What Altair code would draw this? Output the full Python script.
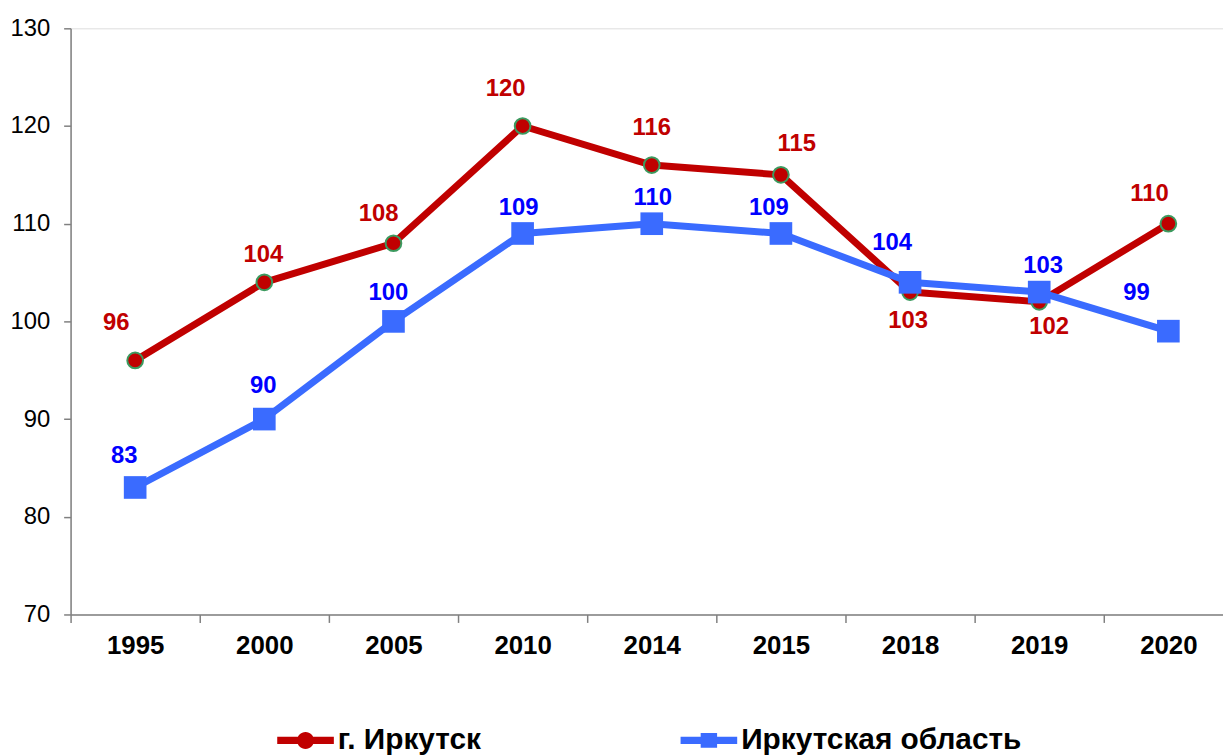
import altair as alt
import pandas as pd

years = ["1995", "2000", "2005", "2010", "2014", "2015", "2018", "2019", "2020"]
city_name = "г. Иркутск"
region_name = "Иркутская область"
city_values = [96, 104, 108, 120, 116, 115, 103, 102, 110]
region_values = [83, 90, 100, 109, 110, 109, 104, 103, 99]
y_ticks = [70, 80, 90, 100, 110, 120, 130]

RED = "#C00000"
BLUE = "#3A6BFF"
LABEL_BLUE = "#0000FF"
GREEN = "#3C9A5F"
FONT = "Liberation Sans"

df = pd.DataFrame(
    [{"year": y, "series": city_name, "value": v} for y, v in zip(years, city_values)]
    + [{"year": y, "series": region_name, "value": v} for y, v in zip(years, region_values)]
)

red_path = ("M-1,-0.13 L1,-0.13 L1,0.13 L-1,0.13 Z "
            "M-0.3,0 A0.3,0.3 0 1,1 0.3,0 A0.3,0.3 0 1,1 -0.3,0 Z")
blue_path = ("M-1,-0.13 L1,-0.13 L1,0.13 L-1,0.13 Z "
             "M-0.29,-0.26 L0.29,-0.26 L0.29,0.26 L-0.29,0.26 Z")

legend = alt.Legend(
    orient="none", legendX=208, legendY=688, direction="horizontal", title=None,
    labelFont=FONT, labelFontSize=30, labelFontWeight="bold", labelColor="#000000",
    symbolSize=3249, labelOffset=4, columnPadding=200, labelLimit=400,
    symbolOpacity=1, symbolStrokeWidth=0,
)

x_enc = alt.X(
    "year:N", sort=years, bandPosition=0.5, title=None,
    scale=alt.Scale(type="band", paddingInner=0, paddingOuter=0),
    axis=alt.Axis(tickBand="extent", labelAngle=0, labelFont=FONT, labelFontSize=26,
                  labelFontWeight="bold", labelColor="#000000", labelPadding=10,
                  tickSize=8, tickColor="#808080", domainColor="#808080",
                  domainWidth=1.5, tickWidth=1.5, grid=False),
)
y_enc = alt.Y(
    "value:Q", title=None,
    scale=alt.Scale(domain=[70, 130], nice=False, zero=False),
    axis=alt.Axis(values=y_ticks, labelFont=FONT, labelFontSize=24, labelColor="#000000",
                  labelPadding=14, tickSize=7, tickColor="#808080", domainColor="#808080",
                  domainWidth=1.5, tickWidth=1.5, grid=False),
)

base = alt.Chart(df)
city = base.transform_filter(alt.datum.series == city_name)
region = base.transform_filter(alt.datum.series == region_name)

legend_layer = base.mark_point(filled=True, opacity=0).encode(
    x=x_enc, y=y_enc,
    color=alt.Color("series:N", scale=alt.Scale(domain=[city_name, region_name], range=[RED, BLUE]),
                    legend=legend),
    shape=alt.Shape("series:N", scale=alt.Scale(domain=[city_name, region_name],
                                                range=[red_path, blue_path]),
                    legend=legend),
)

city_line = city.mark_line(strokeWidth=7, strokeJoin="round", color=RED).encode(x=x_enc, y=y_enc)
city_pts = city.mark_point(shape="circle", filled=True, size=250, fill=RED, stroke=GREEN,
                           strokeWidth=2, opacity=1).encode(x=x_enc, y=y_enc)
region_line = region.mark_line(strokeWidth=7, strokeJoin="round", color=BLUE).encode(x=x_enc, y=y_enc)
region_pts = region.mark_point(shape="square", filled=True, size=520, color=BLUE,
                               opacity=1).encode(x=x_enc, y=y_enc)

# label placement (offset from its point) per year, as in the original chart
city_label_offsets = {
    "1995": (-19, -38), "2000": (-1, -27), "2005": (-15, -29), "2010": (-17, -37),
    "2014": (0, -37), "2015": (16, -31), "2018": (-2, 29), "2019": (10, 25), "2020": (-19, -30),
}
region_label_offsets = {
    "1995": (-11, -32), "2000": (-1, -33), "2005": (-5, -29), "2010": (-4, -26),
    "2014": (1, -26), "2015": (-12, -26), "2018": (-18, -40), "2019": (4, -26), "2020": (-32, -38),
}

def label_layers(data, color, offsets):
    out = []
    for yr, (dx, dy) in offsets.items():
        out.append(
            data.transform_filter(alt.datum.year == yr)
            .mark_text(font=FONT, fontSize=24, fontWeight="bold", color=color, dx=dx, dy=dy)
            .encode(x=x_enc, y=y_enc, text="value:Q")
        )
    return out

chart = alt.layer(
    legend_layer, city_line, city_pts, region_line, region_pts,
    *label_layers(city, RED, city_label_offsets),
    *label_layers(region, LABEL_BLUE, region_label_offsets),
).properties(
    width=1170, height=590,
    autosize=alt.AutoSizeParams(type="none"),
    padding={"left": 63, "top": 18, "right": -10, "bottom": 139},
).configure_view(stroke=None).configure(background="#FFFFFF")

chart.save("out.html", embed_options={"renderer": "svg", "actions": False})
